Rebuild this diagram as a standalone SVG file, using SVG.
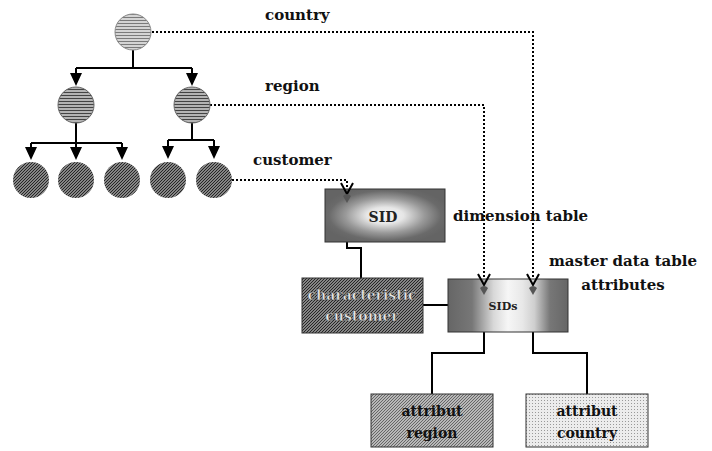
<svg xmlns="http://www.w3.org/2000/svg" width="712" height="451" viewBox="0 0 712 451">
<defs>
<style>
.lbl{font-family:"DejaVu Serif","Liberation Serif",serif;font-weight:bold;font-size:15px;fill:#111}
.box{font-family:"DejaVu Serif","Liberation Serif",serif;font-weight:bold;font-size:14px;text-anchor:middle}
.small{font-size:11px}
.solid{fill:none;stroke:#000;stroke-width:2}
.dot{fill:none;stroke:#000;stroke-width:2;stroke-dasharray:2 2}
.ah{fill:#000}
.vh{fill:none;stroke:#000;stroke-width:2}
.bulb{fill:#555}
</style>
<pattern id="pTop" width="3" height="3" patternUnits="userSpaceOnUse">
<rect width="3" height="3" fill="#d4d4d4"/><rect y="2" width="3" height="1" fill="#7a7a7a"/>
</pattern>
<pattern id="pMid" width="3" height="3" patternUnits="userSpaceOnUse">
<rect width="3" height="3" fill="#b4b4b4"/><rect y="2" width="3" height="1" fill="#444"/>
</pattern>
<pattern id="pDark" width="3" height="3" patternUnits="userSpaceOnUse">
<rect width="3" height="3" fill="#858585"/><path d="M0,3 L3,0" stroke="#262626" stroke-width="1"/>
</pattern>
<pattern id="pReg" width="3" height="3" patternUnits="userSpaceOnUse">
<rect width="3" height="3" fill="#b8b8b8"/><path d="M0,3 L3,0" stroke="#666" stroke-width="1"/>
</pattern>
<pattern id="pCty" width="3" height="3" patternUnits="userSpaceOnUse">
<rect width="3" height="3" fill="#ececec"/><rect x="1" y="1" width="1" height="1" fill="#999"/>
</pattern>
<radialGradient id="gSID" cx="50%" cy="50%" r="55%">
<stop offset="0" stop-color="#f8f8f8"/><stop offset="0.28" stop-color="#e6e6e6"/><stop offset="0.6" stop-color="#999"/><stop offset="0.85" stop-color="#6a6a6a"/><stop offset="1" stop-color="#646464"/>
</radialGradient>
<linearGradient id="gSIDs" x1="0" y1="0" x2="1" y2="0">
<stop offset="0" stop-color="#666"/><stop offset="0.2" stop-color="#777"/><stop offset="0.38" stop-color="#d8d8d8"/><stop offset="0.5" stop-color="#f6f6f6"/><stop offset="0.62" stop-color="#e8e8e8"/><stop offset="0.72" stop-color="#cfcfcf"/><stop offset="0.85" stop-color="#777"/><stop offset="1" stop-color="#666"/>
</linearGradient>
</defs>

<g id="connectors">
<path class="solid" d="M133,50 V68 M76,68 H192 M76,68 V75 M192,68 V75"/>
<path class="ah" d="M70,73 H82 L76,86 Z M186,73 H198 L192,86 Z"/>
<path class="solid" d="M76,123 V148 M31,143 H122 M31,143 V149 M122,143 V149"/>
<path class="ah" d="M25,147 H37 L31,160 Z M70,147 H82 L76,160 Z M116,147 H128 L122,160 Z"/>
<path class="solid" d="M192,123 V140 M168,140 H214 M168,140 V147 M214,140 V147"/>
<path class="ah" d="M162,146 H174 L168,159 Z M208,146 H220 L214,159 Z"/>
<path class="dot" d="M152,32 H533 V285"/>
<path class="dot" d="M210,105 H484 V285"/>
<path class="dot" d="M232,180 H347 V194"/>
<path class="solid" d="M347,200 V248 H361 V278"/>
<path class="solid" d="M423,305 H448"/>
<path class="solid" d="M484,292 V353 H432 V394"/>
<path class="solid" d="M533,292 V353 H587 V394"/>
</g>

<g id="n-country"><circle cx="133" cy="32" r="18" fill="url(#pTop)" stroke="#888" stroke-width="1"/></g>
<g id="n-region1"><circle cx="76" cy="105" r="18" fill="url(#pMid)" stroke="#666" stroke-width="1"/></g>
<g id="n-region2"><circle cx="192" cy="105" r="18" fill="url(#pMid)" stroke="#666" stroke-width="1"/></g>
<g id="n-cust1"><circle cx="31" cy="180" r="18" fill="url(#pDark)"/></g>
<g id="n-cust2"><circle cx="76" cy="180" r="18" fill="url(#pDark)"/></g>
<g id="n-cust3"><circle cx="122" cy="180" r="18" fill="url(#pDark)"/></g>
<g id="n-cust4"><circle cx="168" cy="180" r="18" fill="url(#pDark)"/></g>
<g id="n-cust5"><circle cx="214" cy="180" r="18" fill="url(#pDark)"/></g>

<g id="lbl-country"><text class="lbl" x="265" y="20">country</text></g>
<g id="lbl-region"><text class="lbl" x="265" y="91">region</text></g>
<g id="lbl-customer"><text class="lbl" x="253" y="165">customer</text></g>
<g id="lbl-dim"><text class="lbl" x="453" y="221">dimension table</text></g>
<g id="lbl-master"><text class="lbl" x="623" y="266" text-anchor="middle">master data table</text><text class="lbl" x="623" y="290" text-anchor="middle">attributes</text></g>

<g id="n-sid">
<rect x="325" y="189" width="120" height="53" fill="url(#gSID)" stroke="#333" stroke-width="1"/>
<text class="box" x="383" y="222" fill="#222">SID</text>
<path class="vh" d="M341,183 L347,194 L353,183"/>
<path class="bulb" d="M343,196 Q347,192 351,196 L347,203 Z"/>
</g>

<g id="n-char">
<rect x="302" y="278" width="121" height="55" fill="url(#pDark)" stroke="#333" stroke-width="1"/>
<text class="box" x="362" y="300" fill="#e6e6e6" stroke="#222" stroke-width="0.4">characteristic</text>
<text class="box" x="362" y="321" fill="#e6e6e6" stroke="#222" stroke-width="0.4">customer</text>
</g>

<g id="n-sids">
<rect x="448" y="279" width="120" height="53" fill="url(#gSIDs)" stroke="#333" stroke-width="1"/>
<text class="box small" x="503" y="310" fill="#222">SIDs</text>
<path class="vh" d="M478,274 L484,285 L490,274"/>
<path class="bulb" d="M480,288 Q484,284 488,288 L484,295 Z"/>
<path class="vh" d="M527,274 L533,285 L539,274"/>
<path class="bulb" d="M529,288 Q533,284 537,288 L533,295 Z"/>
</g>

<g id="n-attr-region">
<rect x="371" y="394" width="122" height="53" fill="url(#pReg)" stroke="#333" stroke-width="1"/>
<text class="box" x="432" y="416" fill="#111">attribut</text>
<text class="box" x="432" y="438" fill="#111">region</text>
</g>

<g id="n-attr-country">
<rect x="526" y="394" width="122" height="53" fill="url(#pCty)" stroke="#333" stroke-width="1"/>
<text class="box" x="587" y="416" fill="#111">attribut</text>
<text class="box" x="587" y="438" fill="#111">country</text>
</g>
</svg>
